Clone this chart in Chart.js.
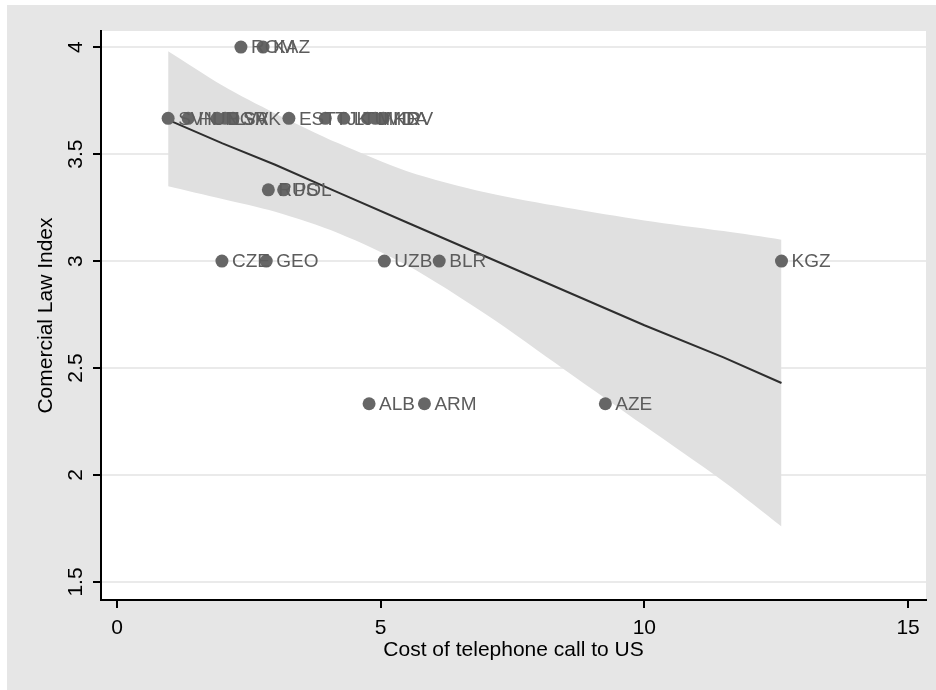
<!DOCTYPE html>
<html>
<head>
<meta charset="utf-8">
<script src="https://cdn.jsdelivr.net/npm/chart.js@4.4.1/dist/chart.umd.min.js"></script>
<style>
  html, body { margin: 0; padding: 0; background: #ffffff; }
  #wrap { width: 936px; height: 690px; position: relative; }
  canvas { display: block; }
</style>
</head>
<body>
<div id="wrap"><canvas id="c" width="936" height="690"></canvas></div>
<script>
// ---- data ----
const countries = ["ROM","KAZ","SVN","HUN","BGR","LVA","SVK","EST","TJK","LTU","MKD","MDA","HRV","RUS","POL","CZE","GEO","UZB","BLR","KGZ","ALB","ARM","AZE"];
const costs     = [2.35, 2.77, 0.97, 1.35, 1.90, 2.05, 2.20, 3.26, 3.95, 4.30, 4.75, 4.90, 5.05, 2.87, 3.16, 1.99, 2.83, 5.07, 6.11, 12.60, 4.78, 5.83, 9.26];
const lawIndex  = [4.00, 4.00, 3.667, 3.667, 3.667, 3.667, 3.667, 3.667, 3.667, 3.667, 3.667, 3.667, 3.667, 3.333, 3.333, 3.00, 3.00, 3.00, 3.00, 3.00, 2.333, 2.333, 2.333];

const fitX    = [0.97, 2.0, 3.0, 4.2, 5.5, 7.0, 8.5, 10.0, 11.5, 12.6];
const fitY    = [3.66, 3.55, 3.45, 3.32, 3.18, 3.02, 2.86, 2.70, 2.55, 2.43];
const ciUpper = [3.98, 3.82, 3.69, 3.55, 3.42, 3.32, 3.25, 3.19, 3.14, 3.10];
const ciLower = [3.35, 3.29, 3.23, 3.13, 2.98, 2.75, 2.49, 2.23, 1.97, 1.76];

const xTicks = [0, 5, 10, 15];
const yTicks = [1.5, 2, 2.5, 3, 3.5, 4];

const FONT = "'Liberation Sans', Arial, sans-serif";

const pts = (xs, ys) => xs.map((x, i) => ({ x: x, y: ys[i] }));

const bgPlugin = {
  id: 'bg',
  beforeDraw(chart) {
    const { ctx, chartArea: a } = chart;
    ctx.save();
    ctx.fillStyle = '#ffffff';
    ctx.fillRect(0, 0, chart.width, chart.height);
    ctx.fillStyle = '#e6e6e6';
    ctx.fillRect(7, 5, chart.width - 7, chart.height - 5);
    ctx.fillStyle = '#ffffff';
    ctx.fillRect(a.left, a.top, a.right - a.left, a.bottom - a.top);
    ctx.restore();
  }
};

const labelPlugin = {
  id: 'labels',
  afterDatasetsDraw(chart) {
    const { ctx } = chart;
    const xs = chart.scales.x, ys = chart.scales.y;
    ctx.save();
    ctx.font = "19px " + FONT;
    ctx.fillStyle = '#5c5c5c';
    ctx.textAlign = 'left';
    ctx.textBaseline = 'middle';
    countries.forEach((c, i) => {
      ctx.fillText(c, xs.getPixelForValue(costs[i]) + 10, ys.getPixelForValue(lawIndex[i]) + 1);
    });
    // rotated y tick labels
    ctx.font = "21px " + FONT;
    ctx.fillStyle = '#000000';
    ctx.textAlign = 'center';
    ctx.textBaseline = 'middle';
    yTicks.forEach(v => {
      const y = ys.getPixelForValue(v);
      ctx.save();
      ctx.translate(76, y);
      ctx.rotate(-Math.PI / 2);
      ctx.fillText(String(v), 0, 0);
      ctx.restore();
    });
    ctx.restore();
  }
};

new Chart(document.getElementById('c'), {
  type: 'scatter',
  data: {
    datasets: [
      {
        type: 'line', data: pts(fitX, ciUpper), fill: '+1',
        backgroundColor: 'rgb(224,224,224)', borderWidth: 0, borderColor: 'rgba(0,0,0,0)',
        pointRadius: 0, tension: 0.3, order: 3
      },
      {
        type: 'line', data: pts(fitX, ciLower), fill: false,
        borderWidth: 0, borderColor: 'rgba(0,0,0,0)',
        pointRadius: 0, tension: 0.3, order: 3
      },
      {
        type: 'line', data: pts(fitX, fitY), fill: false,
        borderColor: '#2e2e2e', borderWidth: 2, pointRadius: 0, order: 2
      },
      {
        type: 'scatter', data: pts(costs, lawIndex),
        backgroundColor: '#666666', borderColor: '#666666', borderWidth: 0,
        pointRadius: 6.5, order: 1
      }
    ]
  },
  options: {
    responsive: false,
    animation: false,
    events: [],
    layout: { padding: { left: 0, top: 31, right: 10, bottom: 0 } },
    plugins: { legend: { display: false }, tooltip: { enabled: false } },
    scales: {
      x: {
        type: 'linear', min: -0.303, max: 15.34,
        afterBuildTicks: s => { s.ticks = xTicks.map(v => ({ value: v })); },
        afterFit: s => { s.height = 90; },
        grid: { color: 'rgba(0,0,0,0)', tickColor: '#000000', tickLength: 8, lineWidth: 2, drawTicks: true },
        border: { color: '#000000', width: 2 },
        ticks: { color: '#000000', font: { family: FONT, size: 21 }, padding: 8, maxRotation: 0 },
        title: { display: true, text: 'Cost of telephone call to US', color: '#000000',
                 font: { family: FONT, size: 21 }, padding: { top: 0, bottom: 27 } }
      },
      y: {
        type: 'linear', min: 1.416, max: 4.075,
        afterBuildTicks: s => { s.ticks = yTicks.map(v => ({ value: v })); },
        afterFit: s => { s.width = 101; },
        grid: { color: 'rgb(234,234,234)', tickColor: '#000000', tickLength: 8, lineWidth: 2 },
        border: { color: '#000000', width: 2 },
        ticks: { color: 'rgba(0,0,0,0)', font: { family: FONT, size: 21 }, padding: 3 },
        title: { display: true, text: 'Comercial Law Index', color: '#000000',
                 font: { family: FONT, size: 21 }, padding: { top: 34, bottom: 0 } }
      }
    }
  },
  plugins: [bgPlugin, labelPlugin]
});
</script>
</body>
</html>
